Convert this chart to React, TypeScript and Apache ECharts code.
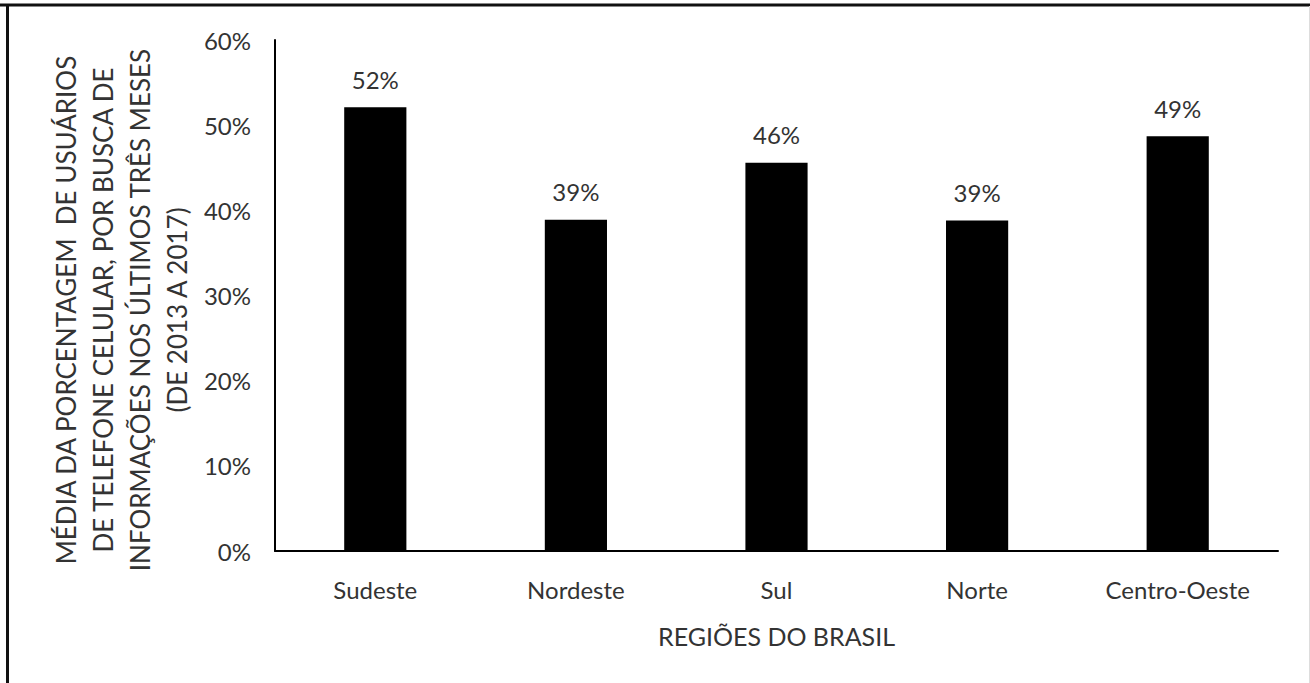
import React, { useEffect, useRef } from "react";
import * as echarts from "echarts";

// Regions and mean share of phone users searching for information (%)
const regions = ["Sudeste", "Nordeste", "Sul", "Norte", "Centro-Oeste"];
const shares = [52.1, 38.9, 45.6, 38.8, 48.7];
const yTicks = [0, 10, 20, 30, 40, 50, 60];

const yTitleLines = [
  "MÉDIA DA PORCENTAGEM  DE USUÁRIOS",
  "DE TELEFONE CELULAR, POR BUSCA DE",
  "INFORMAÇÕES NOS ÚLTIMOS TRÊS MESES",
  "(DE 2013 A 2017)",
];
const xTitle = "REGIÕES DO BRASIL";

const FONT = "Lato, 'Open Sans', sans-serif";
const TEXT = "#333333";

export default function App() {
  const ref = useRef<HTMLDivElement>(null);

  useEffect(() => {
    if (!ref.current) return;
    const chart = echarts.init(ref.current, undefined, { renderer: "svg" });
    chart.setOption({
      animation: false,
      backgroundColor: "#ffffff",
      textStyle: { fontFamily: FONT },
      grid: { left: 275, right: 32, top: 40, bottom: 132, containLabel: false },
      xAxis: {
        type: "category",
        data: regions,
        axisLine: { lineStyle: { color: "#000", width: 2 } },
        axisTick: { show: false },
        axisLabel: { color: TEXT, fontSize: 24, margin: 26, fontFamily: FONT },
        name: xTitle,
        nameLocation: "middle",
        nameGap: 72,
        nameTextStyle: { color: TEXT, fontSize: 25, fontFamily: FONT },
      },
      yAxis: {
        type: "value",
        min: yTicks[0],
        max: yTicks[yTicks.length - 1],
        interval: 10,
        axisLine: { show: true, lineStyle: { color: "#000", width: 2 } },
        axisTick: { show: false },
        splitLine: { show: false },
        axisLabel: {
          color: TEXT,
          fontSize: 24,
          margin: 24,
          fontFamily: FONT,
          formatter: (v: number) => `${v}%`,
        },
      },
      series: [
        {
          type: "bar",
          data: shares,
          barWidth: "31%",
          itemStyle: { color: "#000000" },
          label: {
            show: true,
            position: "top",
            distance: 16,
            color: TEXT,
            fontSize: 24,
            fontFamily: FONT,
            formatter: (p: any) => `${Math.round(p.value)}%`,
          },
        },
      ],
      graphic: [
        {
          type: "text",
          x: 121,
          y: 310,
          rotation: Math.PI / 2,
          style: {
            text: yTitleLines.join("\n"),
            fill: TEXT,
            font: `26px ${FONT}`,
            lineHeight: 37,
            align: "center",
            verticalAlign: "middle",
          },
        },
        {
          type: "line",
          shape: { x1: 0, y1: 5, x2: 1310, y2: 5 },
          style: { stroke: "#111", lineWidth: 3 },
        },
        {
          type: "line",
          shape: { x1: 7.5, y1: 4, x2: 7.5, y2: 683 },
          style: { stroke: "#111", lineWidth: 3 },
        },
        {
          type: "line",
          shape: { x1: 1309.5, y1: 6, x2: 1309.5, y2: 683 },
          style: { stroke: "#dddddd", lineWidth: 1 },
        },
      ],
    });
    return () => chart.dispose();
  }, []);

  return (
    <div
      ref={ref}
      style={{ position: "fixed", left: 0, top: 0, width: 1310, height: 683 }}
    />
  );
}
